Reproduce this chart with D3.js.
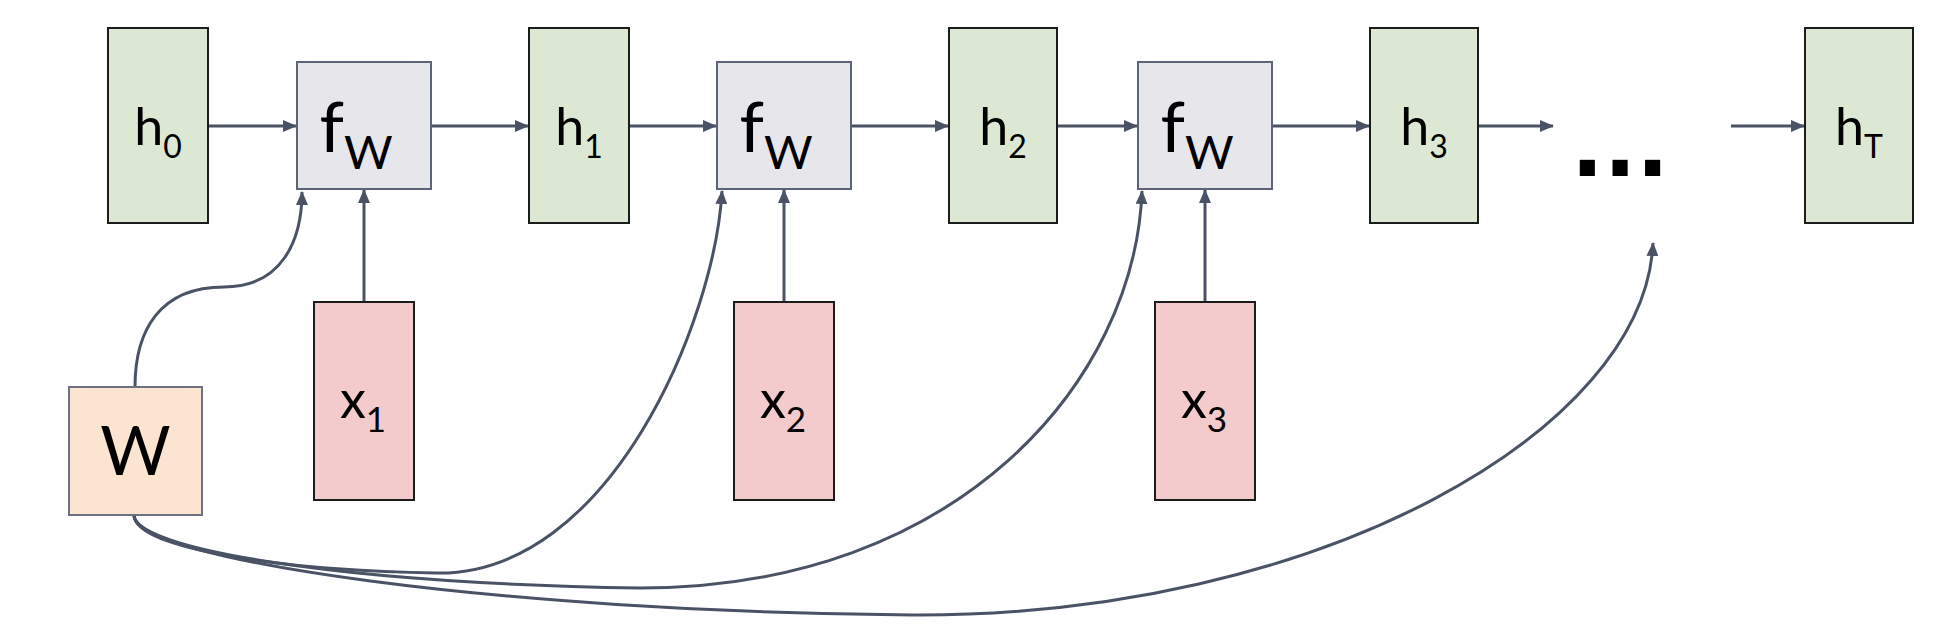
<!DOCTYPE html>
<html>
<head>
<meta charset="utf-8">
<script src="https://cdn.jsdelivr.net/npm/d3@7"></script>
<style>
  html, body { margin: 0; padding: 0; background: #fff; }
  svg { display: block; }
  text { font-family: Lato, "Open Sans", sans-serif; fill: #000; }
</style>
</head>
<body>
<svg id="chart"></svg>
<script>
const width = 1941, height = 628;

// labels of the unrolled RNN
const hSubs = ["0", "1", "2", "3", "T"];
const fSubs = ["W", "W", "W"];
const xSubs = ["1", "2", "3"];
const wLabel = "W";

// layout (slide px)
const hLeft = [108, 529, 949, 1370, 1805];
const hWide = [100, 100, 108, 108, 108];
const hTop = 28, hBottom = 223;
const fLeft = [297, 717, 1138];
const fWide = 134, fTop = 62, fBottom = 189;
const xLeft = [314, 734, 1155];
const xWide = 100, xTop = 302, xBottom = 500;
const wBox = { x0: 69, x1: 202, y0: 387, y1: 515 };
const rowY = 126;
const dotsX = 1620, dotsY = 176;
const gapIn = 1554, gapOut = 1731;

// W weight-sharing curves: start point, then cubic segments [c1, c2, end]
const wCurves = [
  { start: [135, 387], segs: [[[135, 330], [160, 287], [224, 287]], [[282, 287], [302, 240], [302, 192]]] },
  { start: [134, 515], segs: [[[134, 545], [260, 570], [436, 573]], [[610, 576], [715, 320], [722, 191]]] },
  { start: [134, 515], segs: [[[134, 548], [330, 583], [640, 588]], [[960, 588], [1135, 380], [1142, 191]]] },
  { start: [134, 515], segs: [[[134, 560], [500, 612], [912, 615]], [[1320, 617], [1645, 430], [1653, 243]]] }
];

const sx = d3.scaleLinear().domain([0, 1941]).range([0, width]);
const sy = d3.scaleLinear().domain([0, 628]).range([0, height]);

const svg = d3.select("#chart").attr("width", width).attr("height", height);
svg.append("rect").attr("width", width).attr("height", height).attr("fill", "#fff");

const arrowColor = "#4a5366";
svg.append("defs").append("marker")
  .attr("id", "arrow")
  .attr("viewBox", "0 0 14 12")
  .attr("refX", 13).attr("refY", 6)
  .attr("markerWidth", 14).attr("markerHeight", 12)
  .attr("markerUnits", "userSpaceOnUse")
  .attr("orient", "auto")
  .append("path").attr("d", "M0,0L14,6L0,12Z").attr("fill", arrowColor);

// straight arrows along the chain
const chain = [];
const order = [];
hSubs.slice(0, 4).forEach((s, i) => {
  order.push({ l: hLeft[i], r: hLeft[i] + hWide[i] });
  if (i < 3) order.push({ l: fLeft[i], r: fLeft[i] + fWide });
});
for (let i = 0; i < order.length - 1; i++) chain.push([order[i].r, order[i + 1].l]);
chain.push([hLeft[3] + hWide[3], gapIn]);
chain.push([gapOut, hLeft[4]]);

const links = svg.append("g");
links.selectAll(".hArrow").data(chain).join("line")
  .attr("class", "hArrow")
  .attr("x1", d => sx(d[0])).attr("x2", d => sx(d[1]) - 1)
  .attr("y1", sy(rowY)).attr("y2", sy(rowY))
  .attr("stroke", arrowColor).attr("stroke-width", 3)
  .attr("marker-end", "url(#arrow)");

links.selectAll(".vArrow").data(xLeft).join("line")
  .attr("class", "vArrow")
  .attr("x1", d => sx(d + xWide / 2)).attr("x2", d => sx(d + xWide / 2))
  .attr("y1", sy(xTop)).attr("y2", sy(fBottom) + 1)
  .attr("stroke", arrowColor).attr("stroke-width", 3)
  .attr("marker-end", "url(#arrow)");

function curvePath(c) {
  const p = d3.path();
  p.moveTo(sx(c.start[0]), sy(c.start[1]));
  c.segs.forEach(s => p.bezierCurveTo(sx(s[0][0]), sy(s[0][1]), sx(s[1][0]), sy(s[1][1]), sx(s[2][0]), sy(s[2][1])));
  return p.toString();
}
links.selectAll(".wCurve").data(wCurves).join("path")
  .attr("class", "wCurve")
  .attr("d", curvePath)
  .attr("fill", "none")
  .attr("stroke", arrowColor).attr("stroke-width", 3)
  .attr("marker-end", "url(#arrow)");

// boxes
function labelBox(g, x0, x1, y0, y1, fill, stroke, sw) {
  g.append("rect")
    .attr("x", sx(x0)).attr("y", sy(y0))
    .attr("width", sx(x1) - sx(x0)).attr("height", sy(y1) - sy(y0))
    .attr("fill", fill).attr("stroke", stroke).attr("stroke-width", sw);
}

const hG = svg.append("g");
hSubs.forEach((s, i) => {
  const g = hG.append("g");
  labelBox(g, hLeft[i], hLeft[i] + hWide[i], hTop, hBottom, "#dce8d4", "#1c1c1c", 2);
  const t = g.append("text")
    .attr("x", sx(hLeft[i] + hWide[i] / 2)).attr("y", sy(145))
    .attr("text-anchor", "middle");
  t.append("tspan").attr("font-size", 52).text("h");
  t.append("tspan").attr("font-size", 32).attr("dy", 13).text(s);
});

const fG = svg.append("g");
fSubs.forEach((s, i) => {
  const g = fG.append("g");
  labelBox(g, fLeft[i], fLeft[i] + fWide, fTop, fBottom, "#e7e6ea", "#5b6478", 2);
  const t = g.append("text")
    .attr("x", sx(fLeft[i] + fWide / 2 - 8)).attr("y", sy(152))
    .attr("text-anchor", "middle");
  t.append("tspan").attr("font-size", 70).text("f");
  t.append("tspan").attr("font-size", 47).attr("dy", 17).text(s);
});

const xG = svg.append("g");
xSubs.forEach((s, i) => {
  const g = xG.append("g");
  labelBox(g, xLeft[i], xLeft[i] + xWide, xTop, xBottom, "#f4cbcc", "#1c1c1c", 2);
  const t = g.append("text")
    .attr("x", sx(xLeft[i] + xWide / 2 - 1)).attr("y", sy(418))
    .attr("text-anchor", "middle");
  t.append("tspan").attr("font-size", 52).text("x");
  t.append("tspan").attr("font-size", 35).attr("dy", 14).text(s);
});

const wG = svg.append("g");
labelBox(wG, wBox.x0, wBox.x1, wBox.y0, wBox.y1, "#fce5d0", "#6d7282", 2);
wG.append("text")
  .attr("x", sx((wBox.x0 + wBox.x1) / 2)).attr("y", sy(475))
  .attr("text-anchor", "middle").attr("font-size", 68)
  .text(wLabel);

svg.append("text")
  .attr("x", sx(dotsX)).attr("y", sy(dotsY))
  .attr("text-anchor", "middle")
  .style("font-family", "'DejaVu Sans', sans-serif")
  .attr("font-weight", "bold").attr("font-size", 86)
  .text("...");
</script>
</body>
</html>
